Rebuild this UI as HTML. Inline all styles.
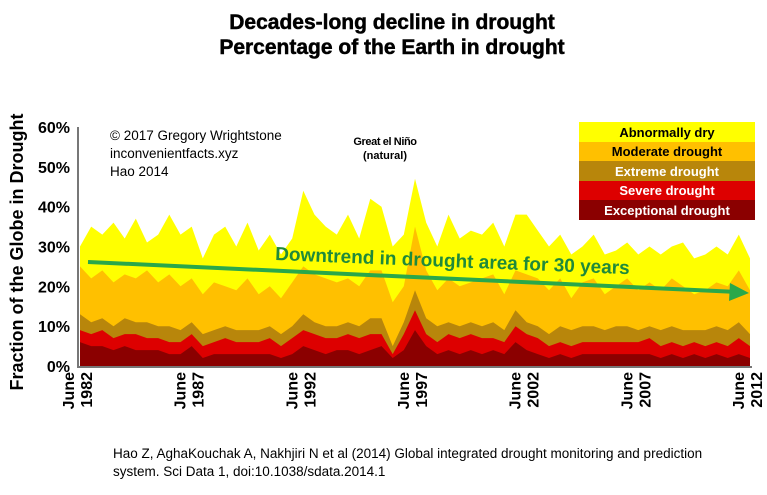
<!DOCTYPE html>
<html><head><meta charset="utf-8"><style>
body{margin:0;background:#fff;width:767px;height:490px;overflow:hidden;font-family:"Liberation Sans",Arial,sans-serif}
</style></head><body>
<svg id="chart" width="767" height="490" xmlns="http://www.w3.org/2000/svg" font-family="Liberation Sans, Arial, sans-serif">
<text x="392" y="29" text-anchor="middle" font-weight="bold" font-size="21" stroke="#000" stroke-width="0.5">Decades-long decline in drought</text>
<text x="392" y="54" text-anchor="middle" font-weight="bold" font-size="21" stroke="#000" stroke-width="0.5">Percentage of the Earth in drought</text>
<text transform="translate(23,252) rotate(-90)" text-anchor="middle" font-weight="bold" font-size="18">Fraction of the Globe in Drought</text>
<g id="layers"></g>
<g id="yticks"></g>
<g id="xticks"></g>
<line x1="78" y1="127" x2="78" y2="367" stroke="#777" stroke-width="2"/>
<line x1="77" y1="367" x2="752" y2="367" stroke="#777" stroke-width="2"/>
<text x="110" y="140" font-size="13.5">© 2017 Gregory Wrightstone</text>
<text x="110" y="158" font-size="13.5">inconvenientfacts.xyz</text>
<text x="110" y="176" font-size="13.5">Hao 2014</text>
<text x="385" y="145" text-anchor="middle" font-weight="bold" font-size="11" letter-spacing="-0.4">Great el Niño</text>
<text x="385" y="159" text-anchor="middle" font-weight="bold" font-size="11">(natural)</text>
<line x1="88" y1="262" x2="738" y2="292" stroke="#2aa84a" stroke-width="4"/>
<polygon points="749,293 730,283 729,301" fill="#2aa84a"/>
<text transform="translate(275,260) rotate(2.3)" font-weight="bold" font-size="19" fill="#1f8a3a">Downtrend in drought area for 30 years</text>
<g>
<rect x="579" y="122" width="176" height="20" fill="#ffff00"/>
<rect x="579" y="142" width="176" height="19" fill="#ffc000"/>
<rect x="579" y="161" width="176" height="20" fill="#b8860b"/>
<rect x="579" y="181" width="176" height="19" fill="#dd0000"/>
<rect x="579" y="200" width="176" height="20" fill="#8b0000"/>
<text x="667" y="137" text-anchor="middle" font-weight="bold" font-size="13">Abnormally dry</text>
<text x="667" y="156" text-anchor="middle" font-weight="bold" font-size="13">Moderate drought</text>
<text x="667" y="176" text-anchor="middle" font-weight="bold" font-size="13" fill="#fff">Extreme drought</text>
<text x="667" y="195" text-anchor="middle" font-weight="bold" font-size="13" fill="#fff">Severe drought</text>
<text x="667" y="215" text-anchor="middle" font-weight="bold" font-size="13" fill="#fff">Exceptional drought</text>
</g>
<text x="113" y="458" font-size="13.5">Hao Z, AghaKouchak A, Nakhjiri N et al (2014) Global integrated drought monitoring and prediction</text>
<text x="113" y="476" font-size="13.5">system. Sci Data 1, doi:10.1038/sdata.2014.1</text>
</svg>
<script>
const startYear = 1982.5, stepYears = 0.5;
const totalTop = [30,35,33,36,32,37,31,33,38,33,35,27,33,35,30,36,29,33,28,32,44,38,35,33,38,32,42,40,30,33,47,36,30,38,32,34,33,36,30,38,38,34,30,33,28,30,33,28,29,31,28,30,28,30,31,27,28,30,28,33,27];
const moderateTop = [25,22,24,21,23,22,24,21,23,20,22,18,21,20,19,22,18,20,17,21,25,23,22,21,22,20,24,24,16,20,35,24,19,22,20,21,22,23,18,24,23,22,19,22,17,21,22,18,20,22,19,21,19,22,20,18,19,21,20,24,19];
const extremeTop = [13,11,12,10,12,11,11,10,10,9,11,8,9,10,9,9,9,10,8,10,13,11,10,10,11,10,12,12,5,11,19,12,10,11,10,11,10,11,9,14,11,10,8,10,9,10,10,9,10,10,9,10,9,10,9,9,9,10,9,11,8];
const severeTop = [9,8,9,7,8,8,7,7,6,6,8,5,6,7,6,6,6,7,5,7,9,8,7,7,8,7,8,8,3,8,14,8,6,8,7,8,7,7,6,10,8,7,5,6,5,6,6,6,6,6,6,7,5,6,5,6,5,6,5,7,5];
const exceptionalTop = [6,5,5,4,5,4,4,4,3,3,5,2,3,3,3,3,3,3,2,3,5,4,3,4,4,3,4,5,2,4,9,5,3,4,3,4,3,4,3,6,4,3,2,3,2,3,3,3,3,3,3,3,2,3,2,3,2,3,2,3,2];
const yTicks = [0,10,20,30,40,50,60];
const xTickYears = ["1982","1987","1992","1997","2002","2007","2012"];

const NS="http://www.w3.org/2000/svg";
function xScale(yr){return 80+(yr-1982.5)*(750-80)/30;}
function yScale(v){return 366-v*(366-127)/60;}
const layers=document.getElementById('layers');
const series=[[totalTop,'#ffff00','area-abnormally-dry'],[moderateTop,'#ffc000','area-moderate-drought'],[extremeTop,'#b8860b','area-extreme-drought'],[severeTop,'#dd0000','area-severe-drought'],[exceptionalTop,'#8b0000','area-exceptional-drought']];
series.forEach(s=>{
  const arr=s[0];
  let d='M'+xScale(startYear)+','+yScale(0);
  arr.forEach((v,i)=>{d+=' L'+xScale(startYear+i*stepYears).toFixed(1)+','+yScale(v).toFixed(1);});
  d+=' L'+xScale(startYear+(arr.length-1)*stepYears)+','+yScale(0)+' Z';
  const p=document.createElementNS(NS,'path');
  p.setAttribute('d',d);p.setAttribute('fill',s[1]);
  
  
  layers.appendChild(p);
});
const yt=document.getElementById('yticks');
yTicks.forEach(v=>{
  const t=document.createElementNS(NS,'text');
  t.setAttribute('x',70);t.setAttribute('y',yScale(v)+6);
  t.setAttribute('text-anchor','end');t.setAttribute('font-weight','bold');t.setAttribute('font-size','16');
  t.textContent=v+'%';
  
  
  yt.appendChild(t);
});
const xt=document.getElementById('xticks');
xTickYears.forEach(y=>{
  const x=xScale(+y+0.5)-1;
  const g=document.createElementNS(NS,'text');
  g.setAttribute('transform','translate('+(x-5)+',372) rotate(-90)');
  g.setAttribute('text-anchor','end');g.setAttribute('font-weight','bold');g.setAttribute('font-size','16');
  g.textContent='June';
  
  
  xt.appendChild(g);
  const h=document.createElementNS(NS,'text');
  h.setAttribute('transform','translate('+(x+13)+',372) rotate(-90)');
  h.setAttribute('text-anchor','end');h.setAttribute('font-weight','bold');h.setAttribute('font-size','16');
  h.textContent=y;
  
  
  xt.appendChild(h);
});
</script>
</body></html>
